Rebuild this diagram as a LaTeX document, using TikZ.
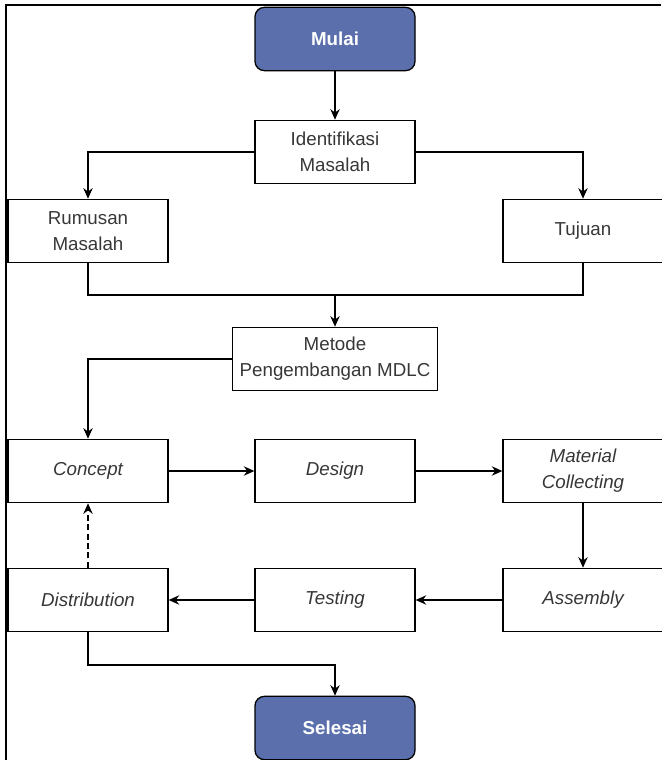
\documentclass[tikz,border=0pt]{standalone}
\usepackage{fontspec}
\setmainfont{Liberation Sans}
\usepackage{xcolor}
\usepackage{tikz}
\usetikzlibrary{arrows.meta,positioning}
\definecolor{termblue}{RGB}{90,111,172}
\definecolor{boxtext}{RGB}{55,55,55}
\tikzset{
	stepbox/.style = 
    {
			draw, rectangle,
			minimum width = 4.8cm, minimum height = 1.9cm,
			align = center, text = boxtext,
			font = \fontsize{16}{22}\selectfont,
			line width = 1.1pt
    },
	terminal/.style = 
    {
			stepbox, rounded corners = 8pt,
			fill = termblue, text = white,
			font = \fontsize{16}{22}\selectfont\bfseries
    },
	flow/.style = {-{Stealth[length=9pt,width=8pt]}, line width = 1.1pt}
}

\begin{document}
\begin{tikzpicture}[x=0.03cm, y=-0.03cm]
    \useasboundingbox (0,0) rectangle (661,760);
    % Frame
    \draw [line width=1.1pt] (6,760) -- (6,5) -- (661,5);

    % Nodes
    \node (mulai) [terminal] at (335,39) {Mulai};
    \node (ident) [stepbox] at (335,152) {Identifikasi\\Masalah};
    \node (rumusan) [stepbox] at (88,231) {Rumusan\\Masalah};
    \node (tujuan) [stepbox] at (583,231) {Tujuan};
    \node (metode) [stepbox, minimum width=6.15cm] at (335,359) {Metode\\Pengembangan MDLC};
    \node (concept) [stepbox] at (88,471) {\itshape Concept};
    \node (design) [stepbox] at (335,471) {\itshape Design};
    \node (material) [stepbox] at (583,471) {\itshape Material\\\itshape Collecting};
    \node (distribution) [stepbox] at (88,600) {\itshape Distribution};
    \node (testing) [stepbox] at (335,600) {\itshape Testing};
    \node (assembly) [stepbox] at (583,600) {\itshape Assembly};
    \node (selesai) [terminal] at (335,728) {Selesai};
    \coordinate (merge) at (335,295);
    \coordinate (turn) at (335,665);

    % Arrows
    \draw [flow] (mulai) to (ident);
    \draw [flow] (ident.west) -| (rumusan.north);
    \draw [flow] (ident.east) -| (tujuan.north);
    \draw [line width=1.1pt] (rumusan.south) |- (merge) -| (tujuan.south);
    \draw [flow] (merge) to (metode);
    \draw [flow] (metode.west) -| (concept.north);
    \draw [flow] (concept) to (design);
    \draw [flow] (design) to (material);
    \draw [flow] (material) to (assembly);
    \draw [flow] (assembly) to (testing);
    \draw [flow] (testing) to (distribution);
    \draw [flow, dash pattern=on 5pt off 3pt] (distribution) to (concept);
    \draw [flow] (distribution.south) |- (turn) to (selesai);
\end{tikzpicture}
\end{document}
